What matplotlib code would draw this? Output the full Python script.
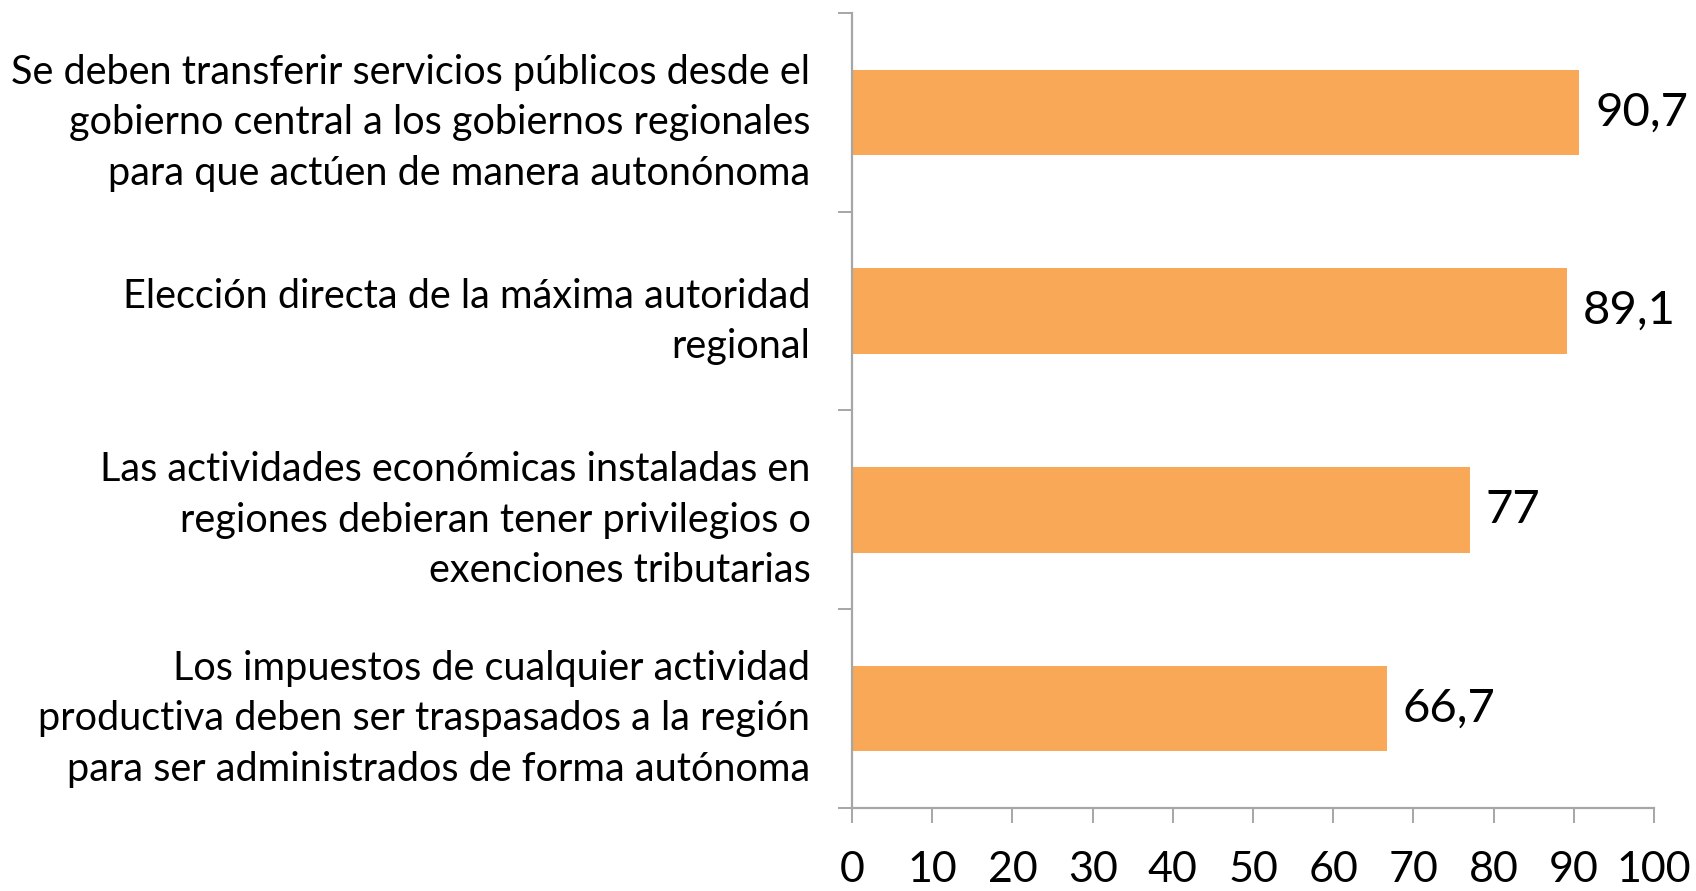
import matplotlib.pyplot as plt

categorias = [
    "Se deben transferir servicios públicos desde el\ngobierno central a los gobiernos regionales\npara que actúen de manera autonónoma",
    "Elección directa de la máxima autoridad\nregional",
    "Las actividades económicas instaladas en\nregiones debieran tener privilegios o\nexenciones tributarias",
    "Los impuestos de cualquier actividad\nproductiva deben ser traspasados a la región\npara ser administrados de forma autónoma",
]
valores = [90.7, 89.1, 77, 66.7]
etiquetas = ["90,7", "89,1", "77", "66,7"]
xticks = list(range(0, 101, 10))

plt.rcParams['font.family'] = ['Lato', 'DejaVu Sans']

fig = plt.figure(figsize=(16.96, 8.91), dpi=100)
ax = fig.add_axes([0.5024, 0.0932, 0.4728, 0.8922])

pos = list(range(len(categorias)))
ax.barh(pos, valores, height=0.43, color='#F9A857')

for p, v, t in zip(pos, valores, etiquetas):
    ax.text(v + 2.0, p, t, va='center', ha='left', fontsize=34)

ax.set_xlim(0, 100)
ax.set_ylim(3.5, -0.5)

gris = '#A6A6A6'
for s in ['top', 'right']:
    ax.spines[s].set_visible(False)
for s in ['left', 'bottom']:
    ax.spines[s].set_color(gris)
    ax.spines[s].set_linewidth(1.6)

ax.set_xticks(xticks)
ax.set_xticklabels([str(x) for x in xticks], fontsize=31)
ax.tick_params(axis='x', direction='out', length=11, width=1.4, color=gris, pad=20)

ax.set_yticks(pos)
ax.set_yticklabels(categorias, fontsize=28.5, linespacing=1.45)
ax.tick_params(axis='y', which='major', length=0, pad=30)
ax.set_yticks([-0.5, 0.5, 1.5, 2.5, 3.5], minor=True)
ax.tick_params(axis='y', which='minor', direction='out', length=10, width=1.4, color=gris)

fig.savefig('out.png', dpi=100)
